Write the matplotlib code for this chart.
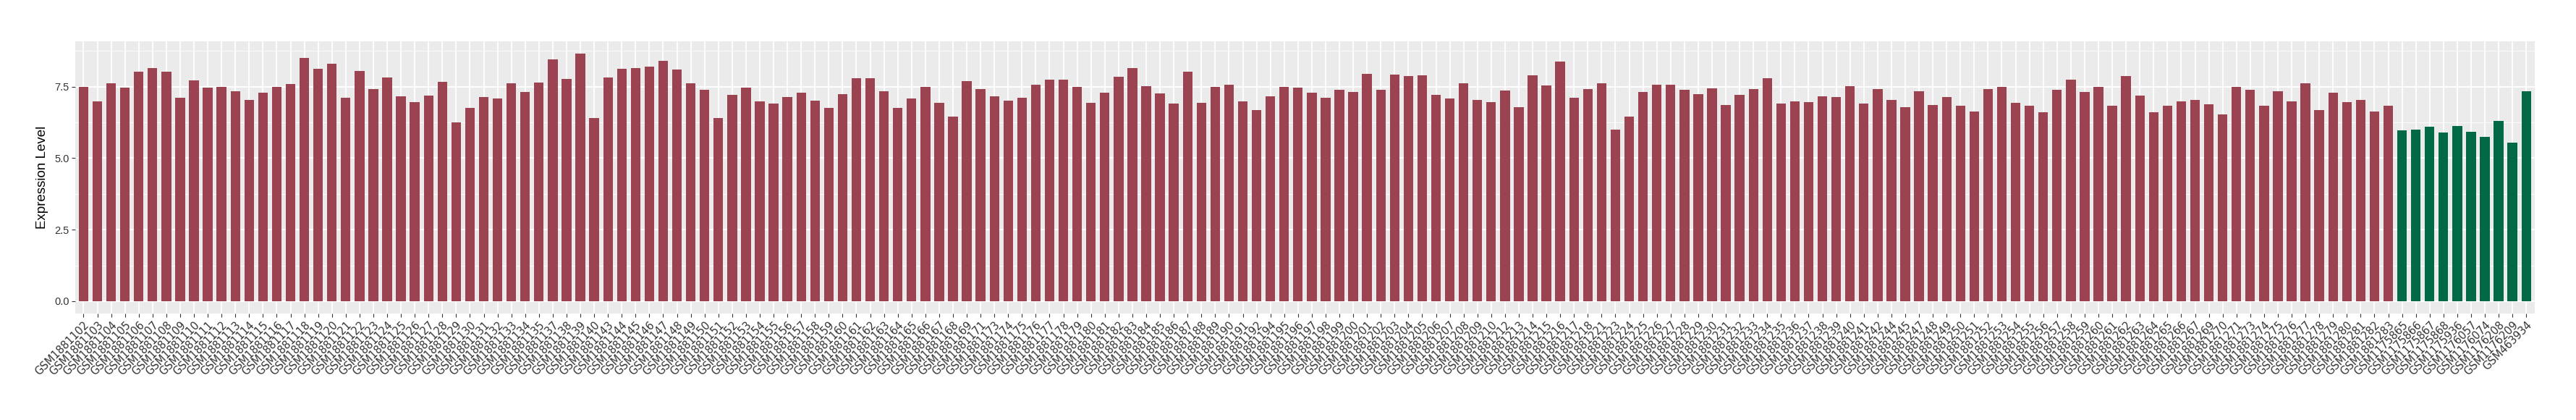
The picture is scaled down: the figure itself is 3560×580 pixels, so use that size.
import matplotlib
matplotlib.use("Agg")
import matplotlib.pyplot as plt
import numpy as np

# sample ids (GSM numbers) and expression values
tumor_ids = [
    1881102, 1881103, 1881104, 1881105, 1881106, 1881107, 1881108, 1881109, 1881110, 1881111,
    1881112, 1881113, 1881114, 1881115, 1881116, 1881117, 1881118, 1881119, 1881120, 1881121,
    1881122, 1881123, 1881124, 1881125, 1881126, 1881127, 1881128, 1881129, 1881130, 1881131,
    1881132, 1881133, 1881134, 1881135, 1881137, 1881138, 1881139, 1881140, 1881143, 1881144,
    1881145, 1881146, 1881147, 1881148, 1881149, 1881150, 1881151, 1881152, 1881153, 1881154,
    1881155, 1881156, 1881157, 1881158, 1881159, 1881160, 1881161, 1881162, 1881163, 1881164,
    1881165, 1881166, 1881167, 1881168, 1881169, 1881171, 1881173, 1881174, 1881175, 1881176,
    1881177, 1881178, 1881179, 1881180, 1881181, 1881182, 1881183, 1881184, 1881185, 1881186,
    1881187, 1881188, 1881189, 1881190, 1881191, 1881192, 1881194, 1881195, 1881196, 1881197,
    1881198, 1881199, 1881200, 1881201, 1881202, 1881203, 1881204, 1881205, 1881206, 1881207,
    1881208, 1881209, 1881210, 1881212, 1881213, 1881214, 1881215, 1881216, 1881217, 1881218,
    1881221, 1881223, 1881224, 1881225, 1881226, 1881227, 1881228, 1881229, 1881230, 1881231,
    1881232, 1881233, 1881234, 1881235, 1881236, 1881237, 1881238, 1881239, 1881240, 1881241,
    1881242, 1881244, 1881245, 1881247, 1881248, 1881249, 1881250, 1881251, 1881252, 1881253,
    1881254, 1881255, 1881256, 1881257, 1881258, 1881259, 1881260, 1881261, 1881262, 1881263,
    1881264, 1881265, 1881266, 1881267, 1881269, 1881270, 1881271, 1881273, 1881274, 1881275,
    1881276, 1881277, 1881278, 1881279, 1881280, 1881281, 1881282, 1881283,
]
tumor_values = [
    7.50, 6.99, 7.62, 7.47, 8.02, 8.16, 8.02, 7.12, 7.72, 7.47,
    7.50, 7.34, 7.04, 7.29, 7.50, 7.59, 8.51, 8.13, 8.31, 7.12,
    8.05, 7.42, 7.83, 7.16, 6.97, 7.19, 7.68, 6.25, 6.76, 7.14,
    7.09, 7.62, 7.32, 7.65, 8.44, 7.77, 8.66, 6.39, 7.83, 8.13,
    8.16, 8.20, 8.41, 8.10, 7.62, 7.40, 6.40, 7.22, 7.47, 6.99,
    6.91, 7.14, 7.29, 7.01, 6.76, 7.25, 7.80, 7.80, 7.34, 6.76,
    7.09, 7.50, 6.94, 6.46, 7.70, 7.42, 7.16, 7.01, 7.12, 7.57,
    7.75, 7.75, 7.50, 6.94, 7.29, 7.85, 8.16, 7.52, 7.27, 6.91,
    8.02, 6.94, 7.50, 7.57, 6.99, 6.69, 7.16, 7.50, 7.47, 7.29,
    7.12, 7.40, 7.32, 7.95, 7.40, 7.93, 7.87, 7.90, 7.22, 7.09,
    7.62, 7.04, 6.97, 7.37, 6.79, 7.90, 7.55, 8.38, 7.12, 7.42,
    7.62, 6.00, 6.46, 7.32, 7.57, 7.57, 7.40, 7.25, 7.44, 6.86,
    7.22, 7.42, 7.80, 6.91, 6.99, 6.97, 7.16, 7.14, 7.52, 6.91,
    7.42, 7.04, 6.79, 7.34, 6.86, 7.14, 6.82, 6.64, 7.42, 7.50,
    6.94, 6.82, 6.61, 7.40, 7.75, 7.32, 7.50, 6.84, 7.87, 7.19,
    6.61, 6.82, 6.99, 7.04, 6.89, 6.54, 7.50, 7.40, 6.84, 7.34,
    6.99, 7.62, 6.69, 7.29, 6.97, 7.04, 6.64, 6.82,
]
normal_ids = [1175865, 1175866, 1175867, 1175868, 1175936,
              1176057, 1176074, 1176208, 1176209, 463934]
normal_values = [5.97, 6.00, 6.10, 5.90, 6.13, 5.93, 5.75, 6.31, 5.55, 7.35]

tumor_color = '#9b4350'
normal_color = '#016946'

labels = ['GSM' + str(i) for i in tumor_ids + normal_ids]
values = tumor_values + normal_values
colors = [tumor_color] * len(tumor_ids) + [normal_color] * len(normal_ids)
n = len(labels)
x = np.arange(n)

fig = plt.figure(figsize=(35.6, 5.8), dpi=100)
ax = fig.add_axes([0.02921, 0.25345, 0.98390 - 0.02921, 0.90224 - 0.25345])

ax.set_facecolor('#ebebeb')
ax.bar(x, values, width=0.7, color=colors, zorder=3)

ax.set_xlim(-0.6, n - 1 + 0.6)
ymax = max(values) * 1.05
ax.set_ylim(-max(values) * 0.05, ymax)

ax.set_yticks([0, 2.5, 5.0, 7.5])
ax.set_yticklabels(['0.0', '2.5', '5.0', '7.5'])
ax.set_yticks([1.25, 3.75, 6.25, 8.75], minor=True)
ax.grid(True, which='major', axis='both', color='white', linewidth=1.3, zorder=0)
ax.grid(True, which='minor', axis='y', color='white', linewidth=0.6, zorder=0)
ax.set_axisbelow(True)

ax.set_xticks(x)
ax.set_xticklabels(labels, rotation=45, ha='right', va='top',
                   rotation_mode='anchor', fontsize=10.5,
                   family='DejaVu Sans', color='#333333')
for t in ax.get_yticklabels():
    t.set_family('Liberation Sans')
    t.set_fontsize(10.5)
    t.set_color('#333333')

ax.tick_params(axis='both', which='major', length=3.5, width=0.8,
               color='#333333', pad=2.5)
ax.tick_params(axis='y', which='minor', length=0)

for s in ax.spines.values():
    s.set_visible(False)

ax.set_ylabel('Expression Level', fontsize=13.5, family='Liberation Sans',
              labelpad=6)

fig.savefig('out.png', dpi=100)
